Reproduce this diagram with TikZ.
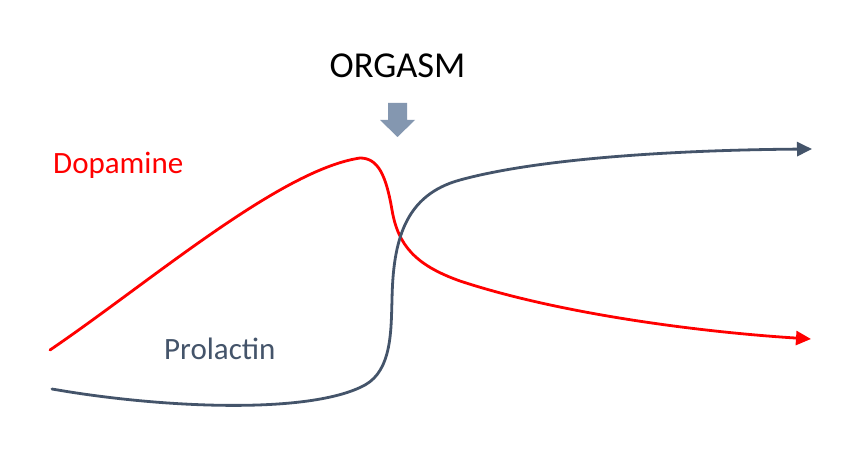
\documentclass[tikz,border=0pt]{standalone}
\usepackage{fontspec}
\setmainfont{Carlito}
\usetikzlibrary{arrows.meta}
\definecolor{darkslate}{HTML}{44546A}
\definecolor{pureRed}{HTML}{FF0000}
\definecolor{steel}{HTML}{8497B0}
\tikzset{
  curveline/.style={line width=2.8pt, line cap=round, -{Triangle[length=15pt,width=14pt]}},
  lbl/.style={inner sep=0pt, font=\fontsize{31}{37}\selectfont},
  titlelbl/.style={inner sep=0pt, font=\fontsize{36.5}{42}\selectfont}
}
\begin{document}
\begin{tikzpicture}[x=1pt,y=-1pt]
\useasboundingbox (0,0) rectangle (859,470);
\fill[white] (0,0) rectangle (859,470);
% labels
\node[titlelbl, anchor=base] (orgasm) at (397.5,78) {ORGASM};
\node[lbl, anchor=base west, text=pureRed] (dopa) at (53,174) {Dopamine};
\node[lbl, anchor=base west, text=darkslate] (prol) at (164,359) {Prolactin};
% block arrow
\fill[steel] (388,103) -- (407,103) -- (407,120) -- (415,120) -- (397.5,137) -- (380,120) -- (388,120) -- cycle;
% dopamine curve
\draw[curveline, pureRed] (50,350) .. controls (150,282) and (280,170) .. (360,158)
  .. controls (378,158) and (386,175) .. (392,210)
  .. controls (398,245) and (415,265) .. (460,281)
  .. controls (560,314) and (700,332) .. (811,339);
% prolactin curve
\draw[curveline, darkslate] (52,389) .. controls (160,408) and (310,415) .. (365,385)
  .. controls (392,370) and (391,330) .. (392,300)
  .. controls (393,240) and (405,195) .. (460,180)
  .. controls (540,158) and (680,150) .. (812,149);
\end{tikzpicture}
\end{document}
